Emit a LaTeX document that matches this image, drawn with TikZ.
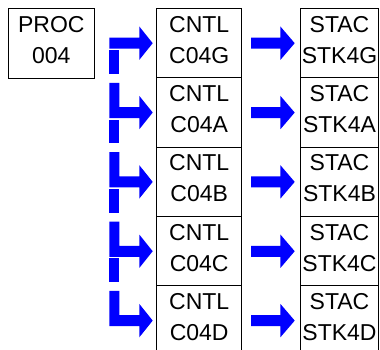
\documentclass[tikz,border=0pt]{standalone}
\usepackage{fontspec}
\setmainfont{Liberation Sans}
\usepackage{tikz}
\usepackage{xcolor}

\tikzset{
    box/.style={draw,line width=1pt,inner sep=0pt,outer sep=0pt,align=center,
        font=\fontsize{23}{31}\selectfont,
        execute at end node={\rule[-6.8pt]{0pt}{6.8pt}}},
    flow/.style={fill=blue},
}

\begin{document}
\begin{tikzpicture}[x=1pt,y=-1pt]
    \useasboundingbox (0,0) rectangle (380,350);
    \clip (0,0) rectangle (380,350);
    % source box
    \node (proc) at (51.3,43.5) [box,minimum width=86pt,minimum height=70.4pt] {PROC\\004};
    % columns
    \foreach \i/\l in {0/G,1/A,2/B,3/C,4/D} {
        \node (c\l) at (199.2,43+69.35*\i) [box,minimum width=85pt,minimum height=69.35pt] {CNTL\\C04\l};
        \node (s\l) at (339.5,43+69.35*\i) [box,minimum width=77.6pt,minimum height=69.35pt] {STAC\\STK4\l};
    }
    % arrows cntl -> stac
    \foreach \l in {G,A,B,C,D} {
        \fill[flow] ([xshift=9.3pt,yshift=5.3pt]c\l.east) -- ++(29.4,0) -- ++(0,-11.2)
            -- ++(14.3,16.7) -- ++(-14.3,16.7) -- ++(0,-11.2) -- ++(-29.4,0) -- cycle;
    }
    % bent arrows into cntl
    \foreach \l/\up in {G/0,A/24.2,B/24.2,C/24.2,D/24.2} {
        \fill[flow] ([xshift=-47.4pt,yshift={(5.3+\up)*1pt}]c\l.west) -- ++(10,0) -- ++(0,\up)
            -- ++(20,0) -- ++(0,-11.2) -- ++(13.4,16.7) -- ++(-13.4,16.7) -- ++(0,-11.2)
            -- ++(-30,0) -- cycle;
    }
    % bar segments
    \foreach \l in {G,A,B,C} {
        \fill[flow] ([xshift=-47.4pt,yshift=-7.3pt]c\l.west) rectangle ++(10,23.8);
    }
\end{tikzpicture}
\end{document}
